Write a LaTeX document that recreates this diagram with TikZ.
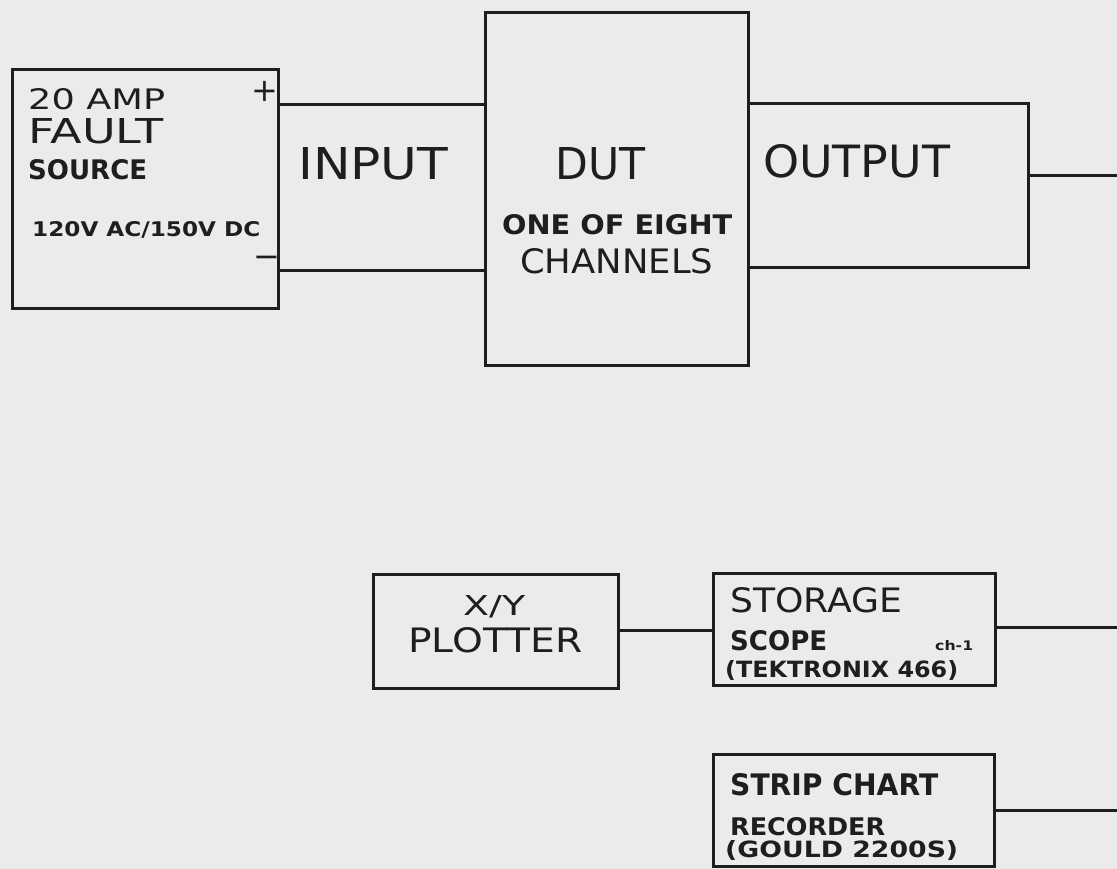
\documentclass[tikz,border=0pt]{standalone}
\usepackage{fontspec}
\setmainfont{DejaVu Sans}
\usepackage{graphicx}
\definecolor{ink}{HTML}{1E1E1E}
\definecolor{paper}{HTML}{EBEBEB}
\newcommand\lblfit[3]{\resizebox{#1pt}{#2pt}{#3}}
\begin{document}
\begin{tikzpicture}[x=1pt,y=-1pt,
  box/.style={draw=ink,line width=3pt,inner sep=0pt},
  wire/.style={draw=ink,line width=3pt,line join=miter},
  thin/.style={inner sep=0pt,anchor=base west,text=ink,font=\mdseries},
  bld/.style={inner sep=0pt,anchor=base west,text=ink,font=\bfseries},
  sign/.style={inner sep=0pt,anchor=base,text=ink,font=\fontsize{32}{32}\selectfont}]
\fill[paper] (0,0) rectangle (1117,869);
\useasboundingbox (0,0) rectangle (1117,869);
% boxes
\node[box,minimum width=266pt,minimum height=238pt] (src) at (145,189) {};
\node[box,minimum width=263pt,minimum height=352pt] (dut) at (616.5,189) {};
\node[box,minimum width=245pt,minimum height=114pt] (xy) at (495.5,631) {};
\node[box,minimum width=282pt,minimum height=112pt] (stor) at (854,629) {};
\node[box,minimum width=281pt,minimum height=112pt] (strip) at (853.5,810) {};
% texts
\node[thin] (t20) at (28,110) {\lblfit{137}{21}{20 AMP}};
\node[thin] (tfault) at (28,144) {\lblfit{135}{25}{FAULT}};
\node[bld] (tsrc) at (28,180) {\lblfit{119}{20}{SOURCE}};
\node[bld] (tv) at (32,237) {\lblfit{228}{15}{120V AC/150V DC}};
\node[sign] (plus) at (265,102) {+};
\node[sign] (minus) at (267,268) {−};
\node[thin] (tin) at (298,180) {\lblfit{150}{32}{INPUT}};
\node[thin] (tdut) at (555,180) {\lblfit{90}{32}{DUT}};
\node[bld] (tone) at (502,235) {\lblfit{230}{20}{ONE OF EIGHT}};
\node[thin] (tch) at (520,273) {\lblfit{193}{25}{CHANNELS}};
\node[thin] (tout) at (763,178) {\lblfit{187}{33}{OUTPUT}};
\node[thin] (txy) at (463,615) {\lblfit{62}{20}{X/Y}};
\node[thin] (tplot) at (408,652) {\lblfit{174}{25}{PLOTTER}};
\node[thin] (tstor) at (730,612) {\lblfit{172}{25}{STORAGE}};
\node[bld] (tscope) at (730,650) {\lblfit{97}{20}{SCOPE}};
\node[bld] (tch1) at (935,650) {\lblfit{38}{10}{ch-1}};
\node[bld] (ttek) at (725,677) {\lblfit{233}{17}{(TEKTRONIX 466)}};
\node[bld] (tstrip) at (730,795) {\lblfit{208}{22}{STRIP CHART}};
\node[bld] (trec) at (730,835) {\lblfit{155}{18}{RECORDER}};
\node[bld] (tgould) at (725,857) {\lblfit{233}{17}{(GOULD 2200S)}};
% connectors
\coordinate (w1) at (0,105);
\coordinate (w2) at (0,271);
\draw[wire] (src.east |- w1) -- (dut.west |- w1);
\draw[wire] (src.east |- w2) -- (dut.west |- w2);
\coordinate (oc1) at (1028,104);
\coordinate (oc2) at (1028,268);
\draw[wire] (dut.east |- oc1) -- (oc1) -- (oc2) -- (dut.east |- oc2);
\coordinate (oe) at (1117,176);
\draw[wire] (oc1 |- oe) -- (oe);
\coordinate (yl) at (0,630);
\draw[wire] (xy.east |- yl) -- (stor.west |- yl);
\coordinate (se) at (1117,627);
\draw[wire] (stor.east |- se) -- (se);
\coordinate (re) at (1117,810);
\draw[wire] (strip.east |- re) -- (re);
\end{tikzpicture}
\end{document}
